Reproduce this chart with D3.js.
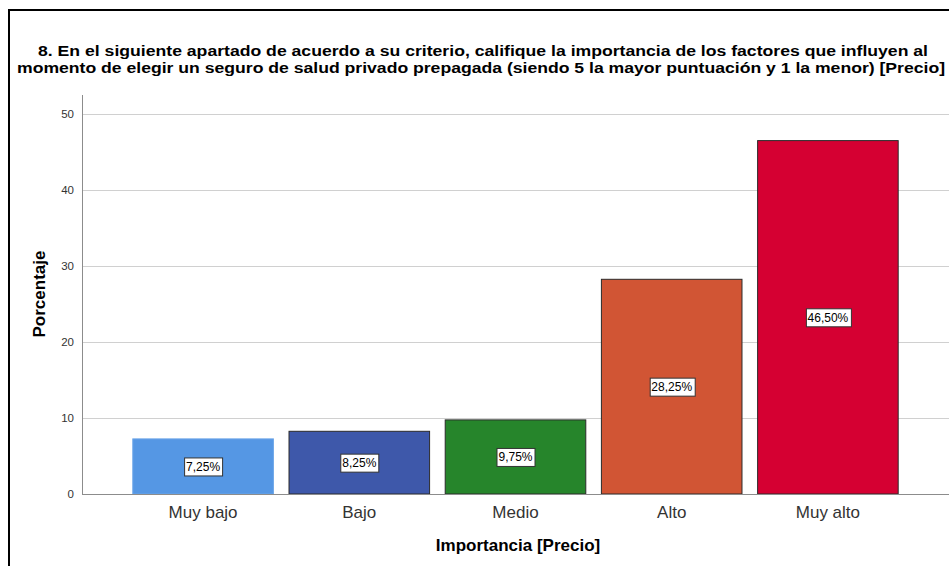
<!DOCTYPE html>
<html>
<head>
<meta charset="utf-8">
<script src="https://cdn.jsdelivr.net/npm/d3@7"></script>
<style>
  html, body { margin: 0; padding: 0; background: #fff; }
  svg { display: block; font-family: Arial, "Liberation Sans", sans-serif; }
</style>
</head>
<body>
<div class="container"></div>
<script>
const categories = ['Muy bajo', 'Bajo', 'Medio', 'Alto', 'Muy alto']
const percents = [7.25, 8.25, 9.75, 28.25, 46.50]
const barColors = ['#5597e4', '#3e58aa', '#26852b', '#d15534', '#d50032']
const yTicks = [0, 10, 20, 30, 40, 50]
const titleLines = [
  '8. En el siguiente apartado de acuerdo a su criterio, califique la importancia de los factores que influyen al',
  'momento de elegir un seguro de salud privado prepagada (siendo 5 la mayor puntuación y 1 la menor) [Precio]'
]

const SVG_WIDTH = 949
const SVG_HEIGHT = 566
const AXIS_X = 82
const FONT = 'Arial, "Liberation Sans", sans-serif'

const svg = d3.select('.container')
  .append('svg')
  .attr('width', SVG_WIDTH)
  .attr('height', SVG_HEIGHT)

// outer frame (only top and left edges fall inside the view)
svg.append('rect')
  .attr('x', 9).attr('y', 10)
  .attr('width', SVG_WIDTH + 20).attr('height', SVG_HEIGHT + 20)
  .attr('fill', 'none')
  .attr('stroke', '#000')
  .attr('stroke-width', 2)

// title, two lines stretched to the full frame width
const titleLayout = [
  { cx: 483, len: 890, y: 56 },
  { cx: 481, len: 928, y: 72.5 }
]
svg.append('g')
  .selectAll('text')
  .data(titleLines)
  .enter()
    .append('text')
    .attr('x', (d, i) => titleLayout[i].cx)
    .attr('y', (d, i) => titleLayout[i].y)
    .attr('text-anchor', 'middle')
    .attr('font-size', '14.5px')
    .attr('font-weight', 'bold')
    .attr('fill', '#000')
    .attr('textLength', (d, i) => titleLayout[i].len)
    .attr('lengthAdjust', 'spacingAndGlyphs')
    .text(d => d)

const scaleY = d3.scaleLinear()
  .domain([0, 50])
  .range([494, 114])

const scaleX = d3.scaleBand()
  .domain(categories)
  .range([125, 906])
  .paddingInner(0.1)
  .paddingOuter(0.05)

// gridlines
svg.append('g')
  .selectAll('line')
  .data(yTicks.filter(t => t > 0))
  .enter()
    .append('line')
    .attr('x1', AXIS_X).attr('x2', SVG_WIDTH)
    .attr('y1', d => scaleY(d) + 0.5).attr('y2', d => scaleY(d) + 0.5)
    .attr('stroke', '#d0d0d0')
    .attr('stroke-width', 1)

// y axis
const yAxis = d3.axisLeft(scaleY)
  .tickValues(yTicks)
  .tickSize(0)
  .tickPadding(8)
  .tickFormat(d3.format('d'))

const gy = svg.append('g')
  .attr('transform', `translate(${AXIS_X}, 0)`)
  .call(yAxis)
gy.select('.domain').remove()
gy.selectAll('text')
  .attr('font-size', '11.5px')
  .attr('fill', '#333')
  .attr('font-family', FONT)

svg.append('line')
  .attr('x1', AXIS_X + 0.5).attr('x2', AXIS_X + 0.5)
  .attr('y1', scaleY(52.5)).attr('y2', scaleY(0))
  .attr('stroke', '#8c8c8c')

// bars
svg.append('g')
  .selectAll('rect')
  .data(percents)
  .enter()
    .append('rect')
    .attr('x', (d, i) => scaleX(categories[i]))
    .attr('y', d => scaleY(d))
    .attr('width', scaleX.bandwidth())
    .attr('height', d => scaleY(0) - scaleY(d))
    .attr('fill', (d, i) => barColors[i])
    .attr('stroke', (d, i) => i === 0 ? '#6aa4e8' : '#2b2b2b')
    .attr('stroke-width', 1)

// baseline
svg.append('line')
  .attr('x1', AXIS_X).attr('x2', SVG_WIDTH)
  .attr('y1', scaleY(0) + 0.5).attr('y2', scaleY(0) + 0.5)
  .attr('stroke', '#8c8c8c')

// value labels in white boxes at mid-height of each bar
const labels = svg.append('g')
  .selectAll('g')
  .data(percents)
  .enter()
    .append('g')
    .attr('transform', (d, i) =>
      `translate(${scaleX(categories[i]) + scaleX.bandwidth() / 2}, ${(scaleY(d) + scaleY(0)) / 2})`)

labels.append('text')
  .attr('text-anchor', 'middle')
  .attr('dy', '0.36em')
  .attr('font-size', '12px')
  .attr('fill', '#000')
  .text(d => d.toFixed(2).replace('.', ',') + '%')

labels.each(function () {
  const g = d3.select(this)
  const bb = g.select('text').node().getBBox()
  g.insert('rect', 'text')
    .attr('x', Math.round(bb.x - 2) + 0.5)
    .attr('y', -8.5)
    .attr('width', Math.round(bb.width + 4))
    .attr('height', 18)
    .attr('fill', '#fff')
    .attr('stroke', '#333')
    .attr('stroke-width', 1)
})

// category labels
svg.append('g')
  .selectAll('text')
  .data(categories)
  .enter()
    .append('text')
    .attr('x', d => scaleX(d) + scaleX.bandwidth() / 2)
    .attr('y', 518)
    .attr('text-anchor', 'middle')
    .attr('font-size', '17px')
    .attr('fill', '#333')
    .text(d => d)

// axis titles
svg.append('text')
  .attr('x', 518)
  .attr('y', 551)
  .attr('text-anchor', 'middle')
  .attr('font-size', '17px')
  .attr('font-weight', 'bold')
  .attr('fill', '#000')
  .text('Importancia [Precio]')

svg.append('text')
  .attr('transform', 'translate(45, 294) rotate(-90)')
  .attr('text-anchor', 'middle')
  .attr('font-size', '17px')
  .attr('font-weight', 'bold')
  .attr('fill', '#000')
  .text('Porcentaje')
</script>
</body>
</html>
